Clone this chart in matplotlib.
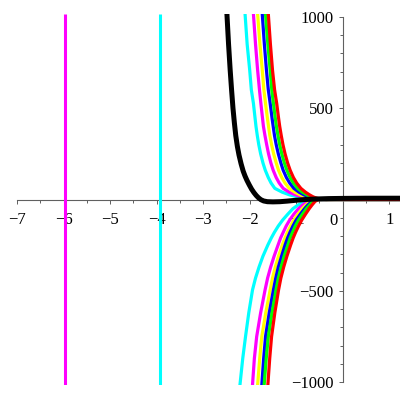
"""
Family of curves around the x axis (Maple-style plot), redrawn in matplotlib.
"""

import matplotlib
matplotlib.use("Agg")
import matplotlib.pyplot as plt
from matplotlib.ticker import MultipleLocator

plt.rcParams["font.family"] = ["Liberation Serif", "DejaVu Serif"]

# curve colours, outermost first
COLORS = ["#00FFFF", "#FF00FF", "#FFFF00", "#0000FF", "#00FF00", "#FF0000"]

# upper branches: x positions where each curve reaches the levels below
UP_LEVELS = [1015, 850, 708, 600, 526, 450, 400, 350, 300, 250, 200, 160, 120, 90,
             61, 40, 25, 15, 8, 3, 0, 0]
UP_X = [
    [-2.10, -2.055, -2.00, -1.965, -1.92, -1.887, -1.865, -1.837, -1.805, -1.765, -1.715,
     -1.665, -1.60, -1.54, -1.46, -1.30, -1.14, -0.97, -0.80, -0.63, -0.45, 1.25],
    [-1.92, -1.875, -1.83, -1.79, -1.76, -1.727, -1.705, -1.672, -1.635, -1.595, -1.545,
     -1.495, -1.43, -1.365, -1.28, -1.15, -1.01, -0.86, -0.72, -0.57, -0.41, 1.25],
    [-1.83, -1.78, -1.73, -1.695, -1.66, -1.622, -1.595, -1.567, -1.53, -1.485, -1.43,
     -1.38, -1.31, -1.24, -1.15, -1.03, -0.91, -0.79, -0.67, -0.54, -0.39, 1.25],
    [-1.73, -1.685, -1.64, -1.60, -1.56, -1.522, -1.495, -1.467, -1.43, -1.385, -1.33,
     -1.28, -1.21, -1.14, -1.05, -0.94, -0.83, -0.73, -0.63, -0.515, -0.37, 1.25],
    [-1.66, -1.61, -1.56, -1.525, -1.49, -1.452, -1.425, -1.392, -1.355, -1.31, -1.255,
     -1.20, -1.13, -1.06, -0.97, -0.865, -0.765, -0.68, -0.60, -0.50, -0.36, 1.25],
    [-1.60, -1.555, -1.51, -1.465, -1.42, -1.382, -1.355, -1.322, -1.285, -1.24, -1.185,
     -1.13, -1.06, -0.99, -0.90, -0.80, -0.71, -0.64, -0.57, -0.48, -0.35, 1.25],
]

# lower branches
LOW_LEVELS = [-1015, -870, -750, -620, -495, -430, -370, -310, -249, -210, -180, -145,
              -112, -80, -50, -30, -12, -4, 0, 0]
LOW_X = [
    [-2.21, -2.15, -2.09, -2.02, -1.94, -1.875, -1.80, -1.715, -1.61, -1.535, -1.47,
     -1.385, -1.29, -1.18, -1.07, -0.96, -0.82, -0.68, -0.57, 1.25],
    [-1.94, -1.90, -1.85, -1.765, -1.67, -1.615, -1.55, -1.475, -1.39, -1.335, -1.28,
     -1.215, -1.14, -1.05, -0.95, -0.86, -0.75, -0.64, -0.55, 1.25],
    [-1.83, -1.785, -1.74, -1.655, -1.56, -1.51, -1.45, -1.38, -1.30, -1.24, -1.19,
     -1.12, -1.05, -0.96, -0.87, -0.79, -0.70, -0.61, -0.54, 1.25],
    [-1.74, -1.70, -1.66, -1.58, -1.49, -1.44, -1.385, -1.315, -1.24, -1.185, -1.135,
     -1.07, -1.00, -0.91, -0.82, -0.75, -0.67, -0.595, -0.53, 1.25],
    [-1.69, -1.645, -1.60, -1.52, -1.435, -1.385, -1.325, -1.26, -1.18, -1.13, -1.08,
     -1.02, -0.95, -0.865, -0.78, -0.71, -0.64, -0.58, -0.52, 1.25],
    [-1.61, -1.57, -1.53, -1.46, -1.38, -1.33, -1.27, -1.20, -1.12, -1.065, -1.015,
     -0.95, -0.88, -0.80, -0.72, -0.66, -0.60, -0.56, -0.51, 1.25],
]

# thick black curve
BLACK_X = [-2.49, -2.455, -2.42, -2.39, -2.36, -2.33, -2.30, -2.265, -2.23, -2.185,
           -2.14, -2.10, -2.06, -2.01, -1.96, -1.91, -1.86, -1.81, -1.76, -1.70,
           -1.62, -1.50, -1.35, -1.20, -1.00, -0.80, -0.55, -0.30, 0.0, 0.5, 1.25]
BLACK_Y = [1015, 850, 708, 600, 500, 420, 350, 290, 243, 195,
           155, 128, 105, 80, 57, 38, 22, 9, -1, -8,
           -12, -13, -12, -9, -4, 0, 3, 5, 6, 7, 7]

# near-vertical lines
VLINE_X = [-5.97, -3.92]
VLINE_COLORS = ["#FF00FF", "#00FFFF"]

X_TICKS = [-7, -6, -5, -4, -3, -2, -1, 1]
Y_TICKS = [-1000, -500, 500, 1000]


def main():
    fig = plt.figure(figsize=(4, 4), dpi=100)
    ax = fig.add_axes([0, 15 / 400, 1, 371 / 400])
    ax.set_xlim(-7.37, 1.232)
    ax.set_ylim(-1015, 1015)

    for x, c in zip(VLINE_X, VLINE_COLORS):
        ax.axvline(x, color=c, linewidth=2.2, solid_capstyle="butt")

    for xs, c in zip(UP_X, COLORS):
        ax.plot(xs, UP_LEVELS, color=c, linewidth=2.3, solid_joinstyle="round")
    for xs, c in zip(LOW_X, COLORS):
        ax.plot(xs, LOW_LEVELS, color=c, linewidth=2.3, solid_joinstyle="round")

    ax.plot(BLACK_X, BLACK_Y, color="black", linewidth=3.6, solid_joinstyle="round")

    # axes through the origin
    axis_color = "#606060"
    for side in ("top", "right"):
        ax.spines[side].set_visible(False)
    ax.spines["left"].set_position(("data", 0))
    ax.spines["bottom"].set_position(("data", 0))
    ax.spines["left"].set_bounds(-1000, 1000)
    ax.spines["bottom"].set_bounds(-7.0, 1.12)
    for side in ("left", "bottom"):
        ax.spines[side].set_color(axis_color)
        ax.spines[side].set_linewidth(0.8)
        ax.spines[side].set_zorder(0.5)

    ax.set_xticks(X_TICKS)
    ax.set_yticks(Y_TICKS)
    ax.xaxis.set_minor_locator(MultipleLocator(0.5))
    ax.yaxis.set_minor_locator(MultipleLocator(100))
    ax.tick_params(which="both", direction="out", color=axis_color, width=0.7,
                   labelsize=12, labelcolor="black")
    ax.tick_params(which="major", length=3.2)
    ax.tick_params(which="minor", length=2.0)
    ax.tick_params(axis="x", pad=6)
    ax.tick_params(axis="y", pad=3.5)

    # origin label sits left of the y axis
    ax.annotate("0", xy=(0, 0), xytext=(-4, -9.5), textcoords="offset points",
                ha="right", va="top", fontsize=12)

    fig.savefig("out.png", dpi=100, facecolor="white")
    plt.close(fig)


if __name__ == "__main__":
    main()
